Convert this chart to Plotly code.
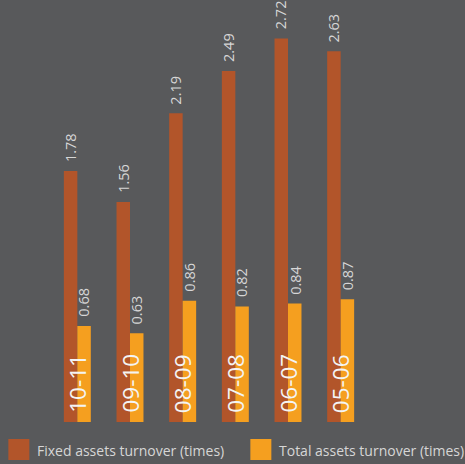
import plotly.graph_objects as go

categories = ["10-11", "09-10", "08-09", "07-08", "06-07", "05-06"]
fixed_turnover = [1.78, 1.56, 2.19, 2.49, 2.72, 2.63]
total_turnover = [0.68, 0.63, 0.86, 0.82, 0.84, 0.87]
series_names = ["Fixed assets turnover (times)", "Total assets turnover (times)"]

W, H = 465, 464
BG = "#58595b"
C_FIXED = "#b2552a"
C_TOTAL = "#f59f1f"
TXT = "#d6d6d6"
FONT = "Open Sans"
CAT_FONT = "Liberation Sans Narrow, Arial Narrow, Open Sans"

L, R, T, B = 50.65, 98.35, 10, 42
pw, ph = W - L - R, H - T - B

fig = go.Figure()
fig.add_bar(x=categories, y=fixed_turnover, name=series_names[0],
            marker=dict(color=C_FIXED, line=dict(width=0)), showlegend=False)
fig.add_bar(x=categories, y=total_turnover, name=series_names[1],
            marker=dict(color=C_TOTAL, line=dict(width=0)), showlegend=False)

ann = []
for i, c in enumerate(categories):
    for vals, xs in ((fixed_turnover, -6.75), (total_turnover, 6.75)):
        ann.append(dict(x=c, y=vals[i], xref="x", yref="y", text=f"{vals[i]:.2f}",
                        textangle=-90, showarrow=False, xanchor="center", yanchor="bottom",
                        xshift=xs, yshift=7, font=dict(family=FONT, size=14.5, color=TXT)))
    ann.append(dict(x=c, y=0, xref="x", yref="y", text=c, textangle=-90, showarrow=False,
                    xanchor="center", yanchor="bottom", yshift=7,
                    font=dict(family=CAT_FONT, size=22.5, color="#f4f4f4")))

shapes = []
def px2paper_x(px):
    return (px - L) / pw
def px2paper_y(py):
    return (H - B - py) / ph

for (x0, name, col) in ((8, series_names[0], C_FIXED), (250, series_names[1], C_TOTAL)):
    shapes.append(dict(type="rect", xref="paper", yref="paper",
                       x0=px2paper_x(x0), x1=px2paper_x(x0 + 21),
                       y0=px2paper_y(460), y1=px2paper_y(439),
                       fillcolor=col, line=dict(width=0)))
    ann.append(dict(x=px2paper_x(x0 + 27), y=px2paper_y(450), xref="paper", yref="paper",
                    text=name, showarrow=False, xanchor="left", yanchor="middle",
                    font=dict(family=FONT, size=14, color=TXT)))

fig.update_layout(
    width=W, height=H,
    margin=dict(l=L, r=R, t=T, b=B, pad=0),
    paper_bgcolor=BG, plot_bgcolor=BG,
    barmode="group", bargap=0.488, bargroupgap=0,
    showlegend=False,
    xaxis=dict(visible=False, type="category"),
    yaxis=dict(visible=False, range=[0, ph / 141.0]),
    annotations=ann, shapes=shapes,
)

fig.write_html("out.html", config={"displayModeBar": False},
               post_script="document.body.style.margin='0px';document.body.style.overflow='hidden';")
